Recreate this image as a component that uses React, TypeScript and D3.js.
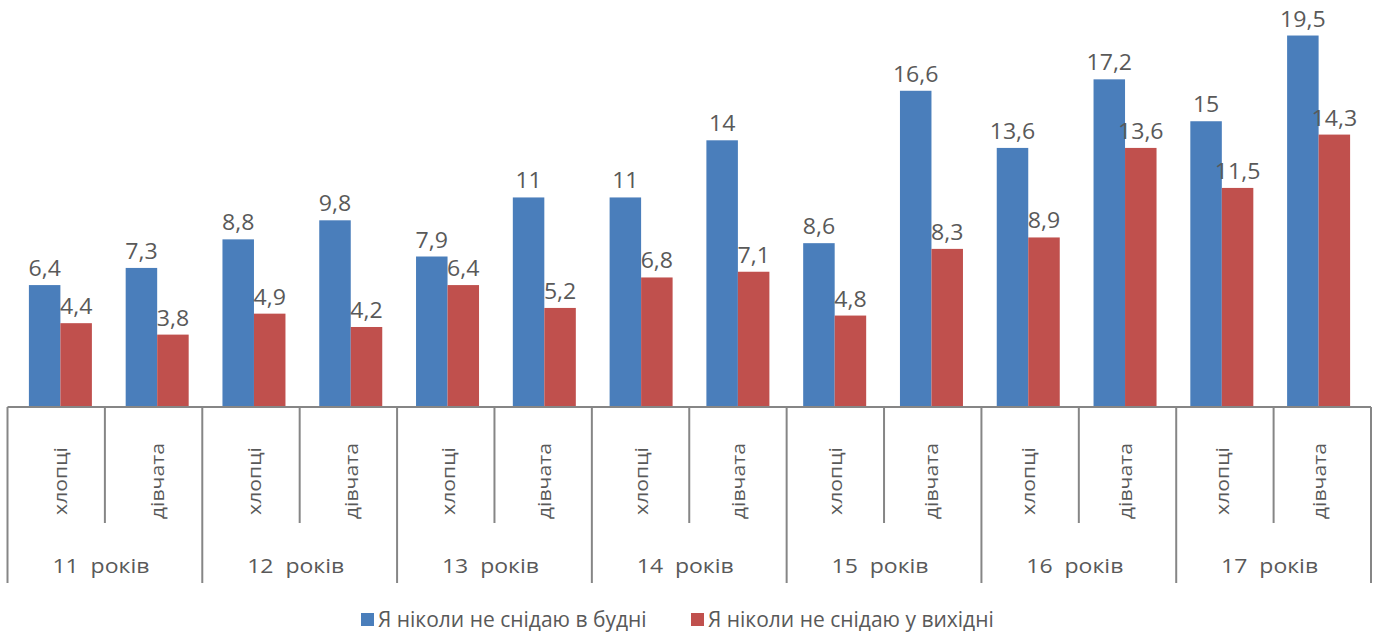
import React from "react";
import * as d3 from "d3";

const ages = ["11  років", "12  років", "13  років", "14  років", "15  років", "16  років", "17  років"];
const genders = ["хлопці", "дівчата"];
const weekdays = [6.4, 7.3, 8.8, 9.8, 7.9, 11, 11, 14, 8.6, 16.6, 13.6, 17.2, 15, 19.5];
const weekends = [4.4, 3.8, 4.9, 4.2, 6.4, 5.2, 6.8, 7.1, 4.8, 8.3, 8.9, 13.6, 11.5, 14.3];
const seriesNames = ["Я ніколи не снідаю в будні", "Я ніколи не снідаю у вихідні"];
const colors = ["#4A7EBB", "#C0504D"];

const W = 1381;
const H = 632;
const left = 7.5;
const right = 1371;
const baseY = 407;
const font = "'Open Sans', sans-serif";
const textColor = "#595959";
const axisColor = "#868686";

// Text drawn with a slight horizontal stretch (wide axis/label lettering)
function WideText(props: {
  x: number;
  y: number;
  size: number;
  stretch: number;
  rotate?: number;
  anchor?: string;
  children: React.ReactNode;
}) {
  const { x, y, size, stretch, rotate = 0, anchor = "middle", children } = props;
  return (
    <text
      transform={`translate(${x},${y}) rotate(${rotate}) scale(${stretch},1)`}
      textAnchor={anchor}
      fontFamily={font}
      fontSize={size}
      fill={textColor}
      style={{ whiteSpace: "pre" }}
    >
      {children}
    </text>
  );
}

export default function App() {
  const cats = ages.flatMap((a) => genders.map((g) => `${a}|${g}`));
  // axis divisions
  const x = d3.scaleBand<string>().domain(cats).range([left, right]);
  const xGroup = d3.scaleBand<string>().domain(ages).range([left, right]);
  // bar placement
  const xBar = d3.scaleBand<string>().domain(cats).range([12, 1367]);
  const y = d3.scaleLinear().domain([0, 20]).range([baseY, baseY - 20 * 19.05]);
  const barW = 31.5;
  const fmt = (v: number) => String(v).replace(".", ",");
  const series = [weekdays, weekends];

  return (
    <svg width={W} height={H} style={{ position: "absolute", left: 0, top: 0, background: "#fff" }}>
      {series.map((vals, si) =>
        vals.map((v, i) => {
          const c = xBar(cats[i])! + xBar.bandwidth() / 2;
          const bx = c - barW + si * barW;
          return (
            <g key={`${si}-${i}`}>
              <rect x={bx} y={y(v)} width={barW} height={baseY - y(v)} fill={colors[si]} />
              <WideText x={bx + barW / 2} y={y(v) - 9} size={21} stretch={1.1}>
                {fmt(v)}
              </WideText>
            </g>
          );
        })
      )}

      {/* category axis */}
      <line x1={left} x2={right} y1={baseY} y2={baseY} stroke={axisColor} strokeWidth={2} />
      {cats.map((c, i) => {
        const x0 = x(c)!;
        const isGroupEdge = i % 2 === 0;
        return (
          <line
            key={`d${i}`}
            x1={x0}
            x2={x0}
            y1={baseY}
            y2={isGroupEdge ? 583 : 523}
            stroke={axisColor}
            strokeWidth={2}
          />
        );
      })}
      <line x1={right} x2={right} y1={baseY} y2={583} stroke={axisColor} strokeWidth={2} />

      {cats.map((c, i) => (
        <WideText
          key={`g${i}`}
          x={xBar(c)! + xBar.bandwidth() / 2 + 7}
          y={481}
          size={19}
          stretch={1.12}
          rotate={-90}
        >
          {genders[i % 2]}
        </WideText>
      ))}

      {ages.map((a) => (
        <WideText key={a} x={xGroup(a)! + xGroup.bandwidth() / 2 - 4} y={573} size={19.5} stretch={1.18}>
          {a}
        </WideText>
      ))}

      {/* legend */}
      {seriesNames.map((n, i) => {
        const lx = [361, 691][i];
        return (
          <g key={n}>
            <rect x={lx} y={613} width={13} height={13} fill={colors[i]} />
            <text x={lx + 17} y={627} fontFamily={font} fontSize={21} fill={textColor}>
              {n}
            </text>
          </g>
        );
      })}
    </svg>
  );
}
